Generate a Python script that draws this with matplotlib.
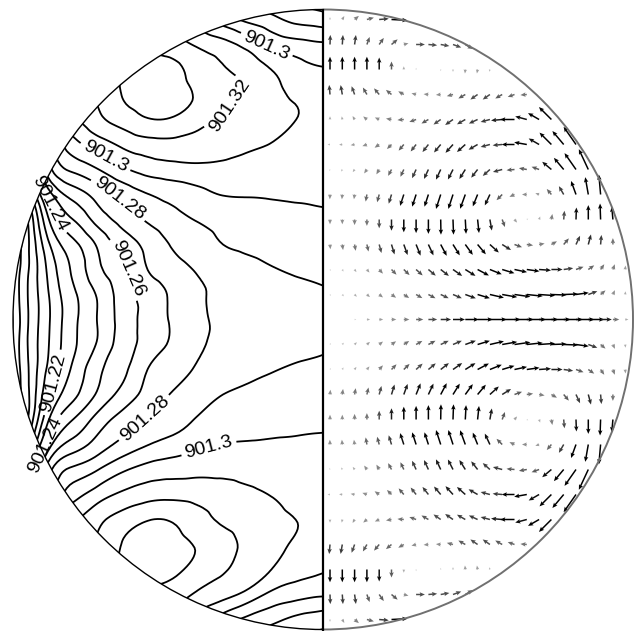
import numpy as np
import matplotlib
matplotlib.use("Agg")
import matplotlib.pyplot as plt
import matplotlib.tri as mtri
from matplotlib.patches import Arc, Wedge
from matplotlib.colors import Normalize

plt.rcParams["font.family"] = ["Liberation Sans", "DejaVu Sans"]

# ---------------------------------------------------------------------------
# Data (coordinates in pixels, centre of the circle = 0)
# ---------------------------------------------------------------------------

R = 310

# pressure on the left half, upper quarter only (lower quarter is the mirror).
# columns run from just outside the left edge to the axis, rows from the
# equator upward.
p_cols = [-325, -300, -275, -250, -225, -200, -175, -150, -125, -100, -75, -50, -25, 0]
p_rows = [0, 25, 50, 75, 100, 125, 150, 175, 200, 225, 250, 275, 300, 325]
p_upper = [
    [901.148, 901.1838, 901.2083, 901.2273, 901.2406, 901.2542, 901.2637, 901.2714, 901.2785, 901.2808, 901.2822, 901.2836, 901.2848, 901.2855],
    [901.156, 901.1847, 901.2092, 901.2280, 901.2413, 901.2548, 901.2641, 901.2719, 901.2788, 901.2812, 901.2832, 901.2855, 901.2872, 901.2885],
    [901.162, 901.1833, 901.2118, 901.2317, 901.2477, 901.2576, 901.2702, 901.2762, 901.2810, 901.2840, 901.2868, 901.2895, 901.2912, 901.2922],
    [901.168, 901.1817, 901.2178, 901.2371, 901.2516, 901.2638, 901.2733, 901.2809, 901.2855, 901.2900, 901.2920, 901.2935, 901.2948, 901.2955],
    [901.172, 901.1820, 901.2286, 901.2500, 901.2640, 901.2739, 901.2813, 901.2865, 901.2907, 901.2935, 901.2953, 901.2967, 901.2978, 901.2985],
    [901.176, 901.1950, 901.2443, 901.2640, 901.2743, 901.2832, 901.2897, 901.2936, 901.2974, 901.3003, 901.3007, 901.3010, 901.3013, 901.3016],
    [901.180, 901.2150, 901.2650, 901.2821, 901.2897, 901.2985, 901.3039, 901.3060, 901.3070, 901.3068, 901.3058, 901.3051, 901.3045, 901.3045],
    [901.190, 901.2350, 901.2750, 901.2960, 901.3050, 901.3120, 901.3160, 901.3170, 901.3165, 901.3150, 901.3120, 901.3095, 901.3065, 901.3060],
    [901.200, 901.2500, 901.2900, 901.3080, 901.3175, 901.3245, 901.3295, 901.3290, 901.3235, 901.3185, 901.3155, 901.3125, 901.3098, 901.3075],
    [901.210, 901.2600, 901.3000, 901.3150, 901.3215, 901.3305, 901.3340, 901.3330, 901.3290, 901.3235, 901.3175, 901.3125, 901.3085, 901.3060],
    [901.220, 901.2700, 901.3050, 901.3180, 901.3260, 901.3305, 901.3335, 901.3325, 901.3260, 901.3208, 901.3165, 901.3095, 901.3035, 901.3008],
    [901.230, 901.2700, 901.3000, 901.3150, 901.3220, 901.3260, 901.3270, 901.3245, 901.3185, 901.3136, 901.3064, 901.2972, 901.2935, 901.2913],
    [901.230, 901.2600, 901.2850, 901.3000, 901.3100, 901.3150, 901.3180, 901.3150, 901.3050, 901.2950, 901.2875, 901.2825, 901.2770, 901.2745],
    [901.220, 901.2500, 901.2700, 901.2850, 901.2950, 901.3030, 901.3050, 901.3000, 901.2920, 901.2830, 901.2760, 901.2700, 901.2660, 901.2640],
]

levels = [901.17, 901.18, 901.19, 901.20, 901.21, 901.22, 901.23, 901.24, 901.25,
          901.26, 901.27, 901.28, 901.29, 901.30, 901.31, 901.32, 901.33]

label_levels = [901.30, 901.32, 901.30, 901.28, 901.24, 901.26,
                901.22, 901.24, 901.28, 901.30]
label_spots = [(-58, 272), (-96, 217), (-218, 162), (-205, 119), (-273, 116),
               (-196, 51), (-270, -63), (-278, -125), (-180, -97), (-116, -123)]

# velocity arrows on the right half, upper rows only (lower rows mirror them).
# row 0 is the equator; each row runs from the axis outward.
# direction in degrees (0 = right, 90 = up) and relative length
arrow_dir = [
    [0] * 25,
    [300, 310, 315, 320, 322, 325, 327, 330, 332, 335, 337, 340, 343, 347, 350, 352, 354, 356, 358, 2, 8, 20, 40, 65, 85],
    [300, 300, 305, 310, 312, 314, 316, 318, 320, 322, 325, 328, 332, 338, 343, 348, 352, 356, 0, 8, 20, 35, 55, 70, 85],
    [275, 278, 280, 283, 285, 287, 290, 292, 295, 298, 302, 306, 310, 318, 328, 340, 352, 10, 30, 50, 65, 75, 85, 90],
    [270, 270, 270, 270, 270, 270, 270, 270, 270, 271, 272, 273, 276, 280, 290, 310, 30, 70, 80, 85, 88, 90, 92, 95],
    [268, 265, 262, 260, 255, 253, 252, 252, 252, 252, 252, 250, 248, 245, 225, 205, 180, 160, 130, 120, 110, 100, 95],
    [250, 240, 235, 235, 240, 242, 245, 245, 245, 245, 243, 238, 232, 222, 195, 185, 170, 160, 140, 130, 125, 115],
    [180, 185, 190, 200, 215, 225, 230, 232, 232, 230, 228, 222, 210, 195, 185, 180, 170, 150, 135, 130, 125],
    [90, 100, 120, 140, 155, 170, 185, 200, 210, 215, 215, 210, 205, 195, 185, 180, 165, 150, 135],
    [95, 100, 110, 120, 130, 140, 150, 165, 175, 185, 195, 210, 215, 215, 210, 200, 185],
    [90, 90, 90, 90, 90, 90, 90, 90, 0, 270, 270, 265, 260, 250],
    [88, 86, 82, 70, 55, 40, 15, 0, 355, 350, 340, 330],
    [90, 60, 40, 15, 5, 357],
]
arrow_len = [
    [0, 0, 1, 2, 2.5, 3, 3.5, 4.5, 5.5, 6.5, 7.5, 8.5, 9.5, 10.5, 11.5, 12, 12, 12, 12, 12, 11.5, 10, 7, 4, 2],
    [1, 1.5, 2, 2.5, 3, 3.5, 4, 4.5, 5, 5.5, 6, 7, 8, 9, 9.5, 10, 10, 10, 9.5, 9, 8, 6, 4, 3, 2],
    [1, 1.5, 2, 2.5, 3.5, 4.5, 5, 5.5, 6, 6.5, 7, 7.5, 8, 8, 8, 8, 8, 7.5, 7, 6, 5, 4.5, 4, 3.5, 2.5],
    [3, 3.5, 4, 4.5, 5.5, 6.5, 7, 7.5, 7.5, 8, 8, 8, 8, 7.5, 6.5, 5, 4, 3.5, 4, 5, 6, 6.5, 6, 4],
    [3, 3, 3.5, 4, 5.5, 7, 8, 8.5, 9, 9.5, 9.5, 9, 8.5, 7, 5, 2.5, 1, 2, 3.5, 5.5, 7.5, 9, 10, 8],
    [3, 3, 3, 4.5, 5, 6, 7.5, 8, 8, 9.5, 9.5, 9.5, 8, 7.5, 5, 3.5, 3, 2.5, 4.5, 6, 9, 11, 12.5],
    [1, 1.5, 2, 3, 3.5, 4.5, 5, 6, 6.5, 7, 7, 7, 6.5, 6, 6, 5, 5, 5, 7.5, 9.5, 12.5, 14],
    [1.5, 2, 2.5, 3, 3.5, 4, 5, 5.5, 6, 6.5, 7, 7, 6.5, 6, 6, 8, 8, 7.5, 10.5, 11, 13.5],
    [2, 2, 2.5, 3, 3, 3.5, 4, 4.5, 5, 5.5, 6, 6, 6, 6, 7, 9, 7.5, 8, 11],
    [6, 6, 5.5, 5, 5, 4.5, 4, 3, 3, 3, 4, 5, 5.5, 5.5, 5, 4.5, 4],
    [8, 8, 8, 8, 7.5, 5, 2, 1, 0, 1, 1.5, 2.5, 2.5, 1.5],
    [6, 6, 6, 5, 5, 5, 3, 5.5, 5.5, 5.5, 5.5, 5.5],
    [1.5, 2.5, 3.5, 4.5, 6, 10],
]

# ---------------------------------------------------------------------------
# Figure
# ---------------------------------------------------------------------------

fig = plt.figure(figsize=(6.43, 6.31), dpi=100)
ax = fig.add_axes([0, 0, 1, 1])
ax.set_xlim(-323, 320)
ax.set_ylim(-311.5, 319.5)
ax.axis("off")

# pressure contours (left half) -- mirror the quarter, refine, contour
pu = np.array(p_upper)
rows = np.array(p_rows, dtype=float)
p_full = np.vstack([pu[:0:-1], pu])
y_full = np.concatenate([-rows[:0:-1], rows])
gx, gy = np.meshgrid(np.array(p_cols, dtype=float), y_full)
ny, nx = gx.shape
triangles = []
for i in range(ny - 1):
    for j in range(nx - 1):
        a = i * nx + j
        triangles.append([a, a + 1, a + nx + 1])
        triangles.append([a, a + nx + 1, a + nx])
tri = mtri.Triangulation(gx.ravel(), gy.ravel(), triangles)
tri_fine, p_fine = mtri.UniformTriRefiner(tri).refine_field(p_full.ravel(), subdiv=3)

labelled = sorted(set(label_levels))
plain = [lev for lev in levels if lev not in labelled]

cs = ax.tricontour(tri_fine, p_fine, levels=plain, colors="black", linewidths=1.3)
cs.set_clip_path(Wedge((0, 0), R, 90, 270, transform=ax.transData))

# one contour set per labelled level, so each label lands on its own line
for lev in labelled:
    cs_lev = ax.tricontour(tri_fine, p_fine, levels=[lev], colors="black", linewidths=1.3)
    cs_lev.set_clip_path(Wedge((0, 0), R, 90, 270, transform=ax.transData))
    spots = [s for l, s in zip(label_levels, label_spots) if l == lev]
    ax.clabel(cs_lev, manual=spots, inline=True, inline_spacing=4,
              fmt="%g", fontsize=14, colors="black")

# velocity arrows (right half)
col_x = 7 + 12.3 * np.arange(25)
qx, qy, qu, qv, qm = [], [], [], [], []
for j, (dirs, lens) in enumerate(zip(arrow_dir, arrow_len)):
    for k, (d, n) in enumerate(zip(dirs, lens)):
        if n == 0:
            continue
        u = n * np.cos(np.radians(d))
        v = n * np.sin(np.radians(d))
        qx.append(col_x[k]); qy.append(25 * j); qu.append(u); qv.append(v); qm.append(n)
        if j > 0:
            qx.append(col_x[k]); qy.append(-25 * j); qu.append(u); qv.append(-v); qm.append(n)

ax.quiver(qx, qy, qu, qv, qm, cmap="Greys", norm=Normalize(-2.5, 8),
          angles="xy", scale_units="xy", scale=0.625, units="xy", width=1.5,
          headwidth=3.0, headlength=3.5, headaxislength=3.0, pivot="tail")

# outline and axis
ax.add_patch(Arc((0, 0), 2 * R, 2 * R, theta1=90, theta2=270, color="black", lw=1.0))
ax.add_patch(Arc((0, 0), 2 * R, 2 * R, theta1=-90, theta2=90, color="#707070", lw=1.4))
ax.plot([0, 0], [-R, R], color="black", lw=1.6)

fig.savefig("out.png", dpi=100)
